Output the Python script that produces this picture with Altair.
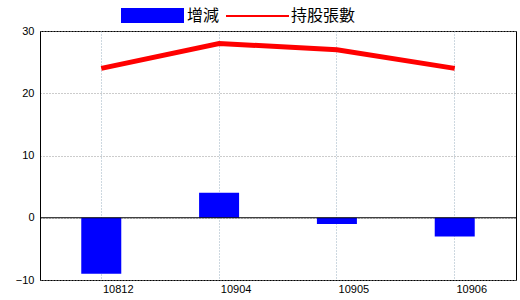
import altair as alt
import pandas as pd

months = ["10812", "10904", "10905", "10906"]
change = [-9, 4, -1, -3]
holdings = [24, 28, 27, 24]
y_ticks = [-10, 0, 10, 20, 30]

df = pd.DataFrame({"month": months, "change": change, "holdings": holdings})

xscale = alt.Scale(domain=months, paddingInner=0, paddingOuter=0.02)
yscale = alt.Scale(domain=[-10, 30], nice=False, zero=False)

x_enc = alt.X("month:N", scale=xscale, sort=months, title=None,
              axis=alt.Axis(labelAngle=0, ticks=False, domain=False, grid=True,
                            bandPosition=0.5, gridColor="#9ab0c0", gridDash=[1, 2],
                            gridOpacity=1, labelFont="Liberation Sans", labelFontSize=11,
                            labelColor="black", labelPadding=3, labelOffset=17))
y_axis = alt.Axis(values=y_ticks, ticks=False, grid=True, gridColor="#999999",
                  gridDash=[1, 2], gridOpacity=1, domainColor="black",
                  labelFont="Liberation Sans", labelFontSize=11, labelColor="black",
                  labelPadding=6, title=None)

base = alt.Chart(df)

bars = base.mark_bar(color="#0000ff", size=40).encode(
    x=x_enc,
    y=alt.Y("change:Q", scale=yscale, axis=y_axis),
)

line = base.mark_line(color="#ff0000", strokeWidth=5).encode(
    x=alt.X("month:N", scale=xscale, sort=months),
    y=alt.Y("holdings:Q", scale=yscale),
)

zero = alt.Chart(pd.DataFrame({"z": [0]})).mark_rule(color="black", strokeWidth=1).encode(
    y=alt.Y("z:Q", scale=yscale)
)

leg_rect = alt.Chart(pd.DataFrame({"a": [0]})).mark_rect(color="#0000ff").encode(
    x=alt.value(81), x2=alt.value(144), y=alt.value(-23), y2=alt.value(-8)
)
leg_t1 = alt.Chart(pd.DataFrame({"a": [0]})).mark_text(
    text="增減", align="left", baseline="middle", font="Noto Sans CJK TC", fontSize=16, color="black"
).encode(x=alt.value(147), y=alt.value(-15))
leg_line = alt.Chart(pd.DataFrame({"a": [0]})).mark_rule(color="#ff0000", strokeWidth=2).encode(
    x=alt.value(186), x2=alt.value(249), y=alt.value(-15)
)
leg_t2 = alt.Chart(pd.DataFrame({"a": [0]})).mark_text(
    text="持股張數", align="left", baseline="middle", font="Noto Sans CJK TC", fontSize=16, color="black"
).encode(x=alt.value(251), y=alt.value(-15))

chart = alt.layer(bars, line, zero, leg_rect, leg_t1, leg_line, leg_t2).properties(
    width=476, height=249,
    autosize=alt.AutoSizeParams(type="none"),
    padding={"left": 40, "top": 31, "right": 4, "bottom": 20},
    background="white",
).configure_view(stroke="black", strokeWidth=1)

chart.save("out.html", embed_options={"renderer": "svg", "actions": False})
